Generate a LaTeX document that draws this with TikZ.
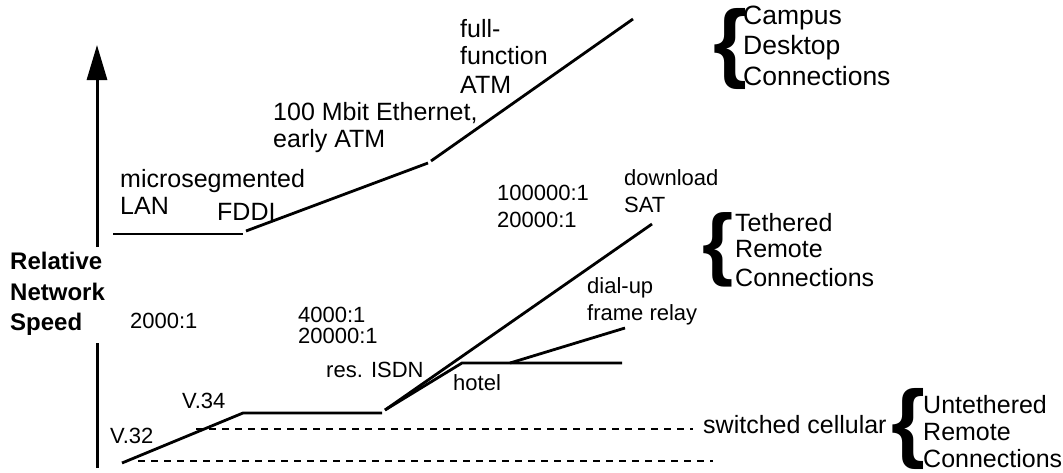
\documentclass[tikz,border=0pt]{standalone}
\usepackage{fontspec}
\setmainfont{Liberation Sans}
\usetikzlibrary{arrows.meta}

\tikzset{
  curve/.style={line width=2.8pt, line cap=butt},
  guide/.style={line width=2.2pt, dash pattern=on 7pt off 6pt},
  axisline/.style={line width=3pt},
  lbl/.style={anchor=base west, inner sep=0pt, font=\fontsize{25}{30}\selectfont},
  grouplbl/.style={anchor=north west, inner sep=0pt, align=left, font=\fontsize{26.5}{30.5}\selectfont},
  small/.style={anchor=base west, inner sep=0pt, font=\fontsize{22}{26}\selectfont},
  axislbl/.style={anchor=base west, inner sep=0pt, font=\bfseries\fontsize{24}{29}\selectfont},
  bracket/.style={inner sep=0pt, anchor=center},
}

\begin{document}
\begin{tikzpicture}[x=1pt, y=-1pt]
\useasboundingbox (0,0) rectangle (1063,472);

% vertical axis, broken around its label
\coordinate (axbot) at (97,468);
\coordinate (axlo) at (97,343);
\coordinate (axhi) at (97,247);
\coordinate (axtop) at (97,45);
\draw[axisline] (axbot) -- (axlo);
\draw[axisline, -{Triangle[length=35pt, width=20pt]}] (axhi) -- (axtop);
\node[axislbl] (rel) at (10,269) {Relative};
\node[axislbl] (net) at (10,300) {Network};
\node[axislbl] (spd) at (10,330) {Speed};

% campus desktop curve
\coordinate (c1) at (113,234);
\coordinate (c2) at (243,234);
\coordinate (c3) at (246,231);
\coordinate (c4) at (428,163);
\coordinate (c5) at (431,161);
\coordinate (c6) at (633,19);
\draw[curve] (c1) -- (c2);
\draw[curve] (c3) -- (c4);
\draw[curve] (c5) -- (c6);

% remote connection curves
\coordinate (r1) at (122,463);
\coordinate (r2) at (243,413);
\coordinate (r3) at (382,413);
\coordinate (r4) at (385,410);
\coordinate (sat) at (652,224);
\coordinate (h1) at (462,363);
\coordinate (hb) at (510,363);
\coordinate (h2) at (622,363);
\coordinate (fr) at (625,328);
\draw[curve, line join=miter] (r1) -- (r2) -- (r3);
\draw[curve] (r4) -- (sat);
\draw[curve, line join=miter] (r4) -- (h1) -- (h2);
\draw[curve] (hb) -- (fr);

% untethered guide lines
\coordinate (d1) at (196,429);
\coordinate (d2) at (693,429);
\coordinate (e1) at (138,461);
\coordinate (e2) at (713,461);
\draw[guide] (d1) -- (d2);
\draw[guide] (e1) -- (e2);

% labels along the curves
\node[lbl] (ms1) at (120,187) {microsegmented};
\node[lbl] (ms2) at (120,214) {LAN};
\node[lbl] (fddi) at (217,220) {FDDI};
\node[lbl] (eth1) at (273,120) {100 Mbit Ethernet,};
\node[lbl] (eth2) at (273,147) {early ATM};
\node[lbl] (atm1) at (460,37) {full-};
\node[lbl] (atm2) at (460,64) {function};
\node[lbl] (atm3) at (460,93) {ATM};

\node[small] (rat1) at (497,200) {100000:1};
\node[small] (rat2) at (497,227) {20000:1};
\node[small] (dl1) at (624,185) {download};
\node[small] (dl2) at (624,212) {SAT};
\node[small] (rat3) at (130,328) {2000:1};
\node[small] (rat4) at (298,322) {4000:1};
\node[small] (rat5) at (298,343) {20000:1};
\node[small] (isdn) at (326,377) {res. ISDN};
\node[small] (hotel) at (453,390) {hotel};
\node[small] (fr1) at (587,293) {dial-up};
\node[small] (fr2) at (587,320) {frame relay};
\node[small] (v34) at (182,408) {V.34};
\node[small] (v32) at (110,443) {V.32};
\node[lbl] (cell) at (703,433) {switched cellular};

% group brackets
\node[bracket, font=\bfseries\fontsize{87}{87}\selectfont] (b1) at (730,49) {\{};
\node[grouplbl] (g1) at (743,5.5) {Campus\\Desktop\\Connections};

\node[bracket, font=\bfseries\fontsize{80}{80}\selectfont] (b2) at (718,250) {\{};
\node[lbl] (g2a) at (735,231) {Tethered};
\node[lbl] (g2b) at (735,257) {Remote};
\node[lbl] (g2c) at (735,286) {Connections};

\node[bracket, font=\bfseries\fontsize{87}{87}\selectfont] (b3) at (908,429) {\{};
\node[lbl] (g3a) at (923,413) {Untethered};
\node[lbl] (g3b) at (923,440) {Remote};
\node[lbl] (g3c) at (923,467) {Connections};
\end{tikzpicture}
\end{document}
